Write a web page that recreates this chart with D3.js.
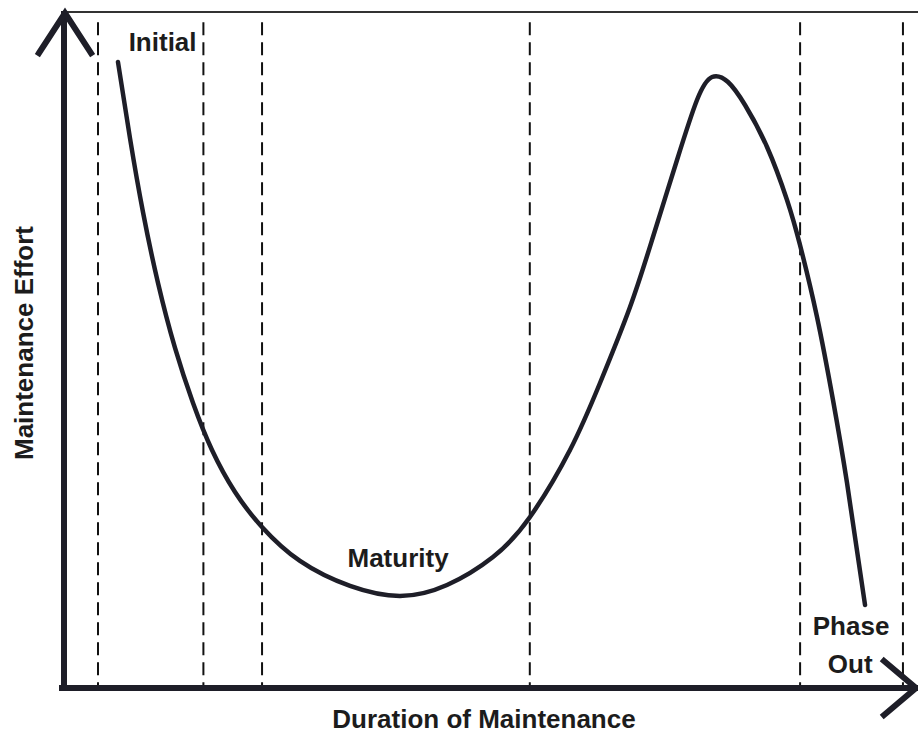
<!DOCTYPE html>
<html>
<head>
<meta charset="utf-8">
<script src="https://cdn.jsdelivr.net/npm/d3@7"></script>
<style>
  html, body { margin: 0; padding: 0; background: #fff; }
  svg { display: block; }
  text { font-family: "Liberation Sans", Arial, Helvetica, sans-serif; font-weight: bold; fill: #1c1c1c; }
</style>
</head>
<body>
<svg id="chart" width="918" height="734"></svg>
<script>
// Maintenance effort over the life of a system
const durations = [6.35, 7.76, 9.29, 11.06, 13.06, 15.18, 17.41, 20.12, 23.29, 27.76, 33.65, 39.53, 45.06, 50.47, 54.82, 59.53, 63.06, 66.59, 69.29, 72.12, 74.47, 76.24, 78.12, 80.12, 82.71, 85.06, 86.59, 88.59, 90.47, 92.12, 94.24];
const efforts   = [92.60, 81.36, 70.41, 59.91, 50.30, 42.16, 35.21, 28.99, 23.82, 18.79, 15.09, 13.61, 15.24, 19.38, 25.30, 35.21, 45.12, 56.36, 66.72, 78.11, 86.98, 90.38, 89.64, 86.24, 80.03, 72.19, 65.53, 54.88, 42.60, 30.33, 12.28];

// Phase boundaries (dashed separators)
const phaseBounds = [4.0, 16.4, 23.3, 54.8, 86.6, 98.7];

// Phase labels and their anchor positions
const phaseLabels = ["Initial", "Maturity", "Phase", "Out"];
const phaseLabelX = [11.6, 39.3, 92.6, 92.5];
const phaseLabelY = [94.3, 17.9, 7.8, 2.2];

const xTitle = "Duration of Maintenance";
const yTitle = "Maintenance Effort";

const svg = d3.select("#chart");
const x = d3.scaleLinear().domain([0, 100]).range([64, 914]);
const y = d3.scaleLinear().domain([0, 100]).range([688, 12]);

const ink = "#1e1e28";

// top frame line
svg.append("line")
  .attr("x1", x(0)).attr("x2", 918)
  .attr("y1", y(100)).attr("y2", y(100))
  .attr("stroke", "#333").attr("stroke-width", 2);

// dashed phase separators
svg.append("g").selectAll("line")
  .data(phaseBounds)
  .join("line")
  .attr("x1", d => x(d)).attr("x2", d => x(d))
  .attr("y1", y(98.5)).attr("y2", y(0))
  .attr("stroke", "#111")
  .attr("stroke-width", 2)
  .attr("stroke-dasharray", "13,7");

// effort curve
const pts = durations.map((d, i) => [d, efforts[i]]);
const line = d3.line()
  .x(d => x(d[0]))
  .y(d => y(d[1]))
  .curve(d3.curveNatural);

svg.append("path")
  .datum(pts)
  .attr("d", line)
  .attr("fill", "none")
  .attr("stroke", ink)
  .attr("stroke-width", 4.5)
  .attr("stroke-linecap", "round");

// axes with open chevron arrowheads
const axisG = svg.append("g")
  .attr("stroke", ink)
  .attr("stroke-width", 6)
  .attr("fill", "none")
  .attr("stroke-linecap", "square");

axisG.append("path")
  .attr("d", `M${x(0)},${y(0)} V${y(100) + 2}`);
axisG.append("path")
  .attr("d", `M${x(0) - 2},${y(0)} H916`);
axisG.append("path")
  .attr("stroke-linejoin", "miter")
  .attr("d", `M${x(0) - 25},${y(100) + 41} L${x(0) + 1},${y(100) + 1} L${x(0) + 27},${y(100) + 41}`);
axisG.append("path")
  .attr("stroke-linejoin", "miter")
  .attr("d", `M884,${y(0) - 27} L916,${y(0)} L884,${y(0) + 27}`);

// phase labels
svg.append("g").selectAll("text")
  .data(phaseLabels)
  .join("text")
  .attr("x", (d, i) => x(phaseLabelX[i]))
  .attr("y", (d, i) => y(phaseLabelY[i]))
  .attr("text-anchor", "middle")
  .attr("font-size", 26)
  .text(d => d);

// axis titles
svg.append("text")
  .attr("x", 484).attr("y", 728)
  .attr("text-anchor", "middle")
  .attr("font-size", 26)
  .text(xTitle);

svg.append("text")
  .attr("transform", "translate(33,343) rotate(-90)")
  .attr("text-anchor", "middle")
  .attr("font-size", 26)
  .text(yTitle);
</script>
</body>
</html>
